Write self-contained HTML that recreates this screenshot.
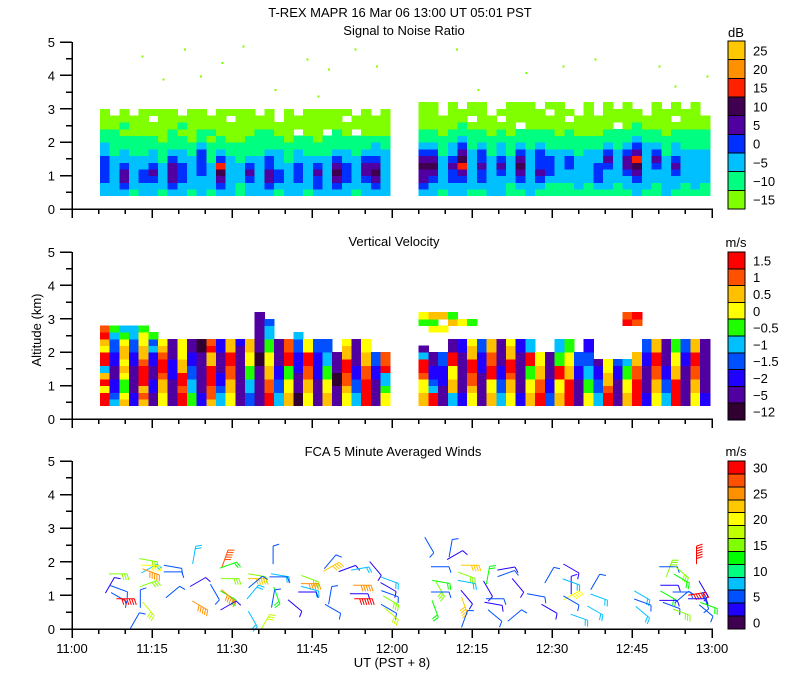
<!DOCTYPE html>
<html><head><meta charset="utf-8"><style>
html,body{margin:0;padding:0;background:#fff;}
svg{display:block;}
text{font-family:"Liberation Sans",sans-serif;font-size:13px;fill:#000;}
</style></head><body>
<svg id="chart" width="800" height="700" viewBox="0 0 800 700" xmlns="http://www.w3.org/2000/svg" shape-rendering="crispEdges">
<text x="400" y="17" text-anchor="middle">T-REX   MAPR 16 Mar 06   13:00 UT   05:01   PST</text>
<text x="404" y="35" text-anchor="middle">Signal to Noise Ratio</text>
<text x="394" y="246" text-anchor="middle">Vertical Velocity</text>
<text x="393" y="456" text-anchor="middle">FCA 5 Minute Averaged Winds</text>
<text transform="translate(41,330) rotate(-90)" text-anchor="middle" font-size="12">Altitude  (km)</text>
<text x="392" y="667" text-anchor="middle" font-size="12">UT   (PST + 8)</text>
<g id="g"></g>
</svg>
<script>
// ---- data ----
const segStart = [5.25, 65.0];          // minutes after 11:00
const segDur = [54.4, 54.6];
const altBase = 0.4, altStep = 0.2;
// SNR level codes (0=-15 ... 8=25), strings bottom -> top
const snrSeg1 = ["2233332211000","222222111100","2344322110100","122222111000","2233221110000","22343221100.0","1222211100000","2344432111000","223332211010","1222221100000","2223333211000","122221110100","2345632110000","22222211000.0","1122211100000","2234321110000","222222111100","2344332111000","12332221100","2222211100000","223332211.00","1222221110000","2334321100000","222222111.000","2345432111000","22333221100.0","122222111.00","2234432110000","234543221000","2222222110000"];
const snrSeg2 = ["23445432110000","22345432110000","122222111000","22334322110000","2234654321100","12222221110.00","12334332110000","222222111000","22234322110.0","11222211100000","1234543211.000","22222221110000","1234333211000","112333211100.0","11222221100000","11223321110.0","122222111000","11222221100000","123332211000","12223432110000","1122222111.00","12234432110000","2234564321100","122222221100","11223432110000","2222221110000","12234322110.00","1122222111000","12222221110000","112222211100"];
// Vertical velocity codes (0=1.5 ... 9=-12); '.' = no data
const vvSeg1 = ["003025003201","567788776654","234432322345","778888776655","212000122334","88778877564","3322100123","8888777888","0010022333","4455667788","7788888899","2110002201","5567788877","3322110022","8888888887","6655443322","88888899888888","0011223344556","5566778888","2233440011","99888777665","3322110033","8888777766","2233445566","88899888","3321100223","5566778888","0000112233","88887766","33455011"];
const vvSeg2 = ["223310058...43","00567788...342","88877766...3.2","5522330088..24","7788888877..3","3321100223..4","8888877766","2233001122","5566778888","3322100223","7788888877","2233440055","00112233","66778888","2233004455","0000223344","88887766","3344556677","5566778","0012233","8888776","2233445.....01","00001122....10","7788887766","3322110022","5566778888","0000223344","8888887766","3322110022","7788888888"];
// SNR speckles above cloud top
const speckT = [13,17,21,28,32,38,44,48,53,57,24,46,72,85,98,110,113,119,76,92];
const speckA = [4.6,3.9,4.8,4.4,4.9,3.6,4.5,4.2,4.8,4.3,4.0,3.4,4.8,4.1,4.5,4.3,3.7,4.0,3.6,4.3];
// wind barbs: minutes, altitude km, speed m/s, staff angle deg
const windT = [8.6,7.1,8.8,8.8,10.0,11.8,12.8,14.3,14.3,14.5,14.6,14.8,14.3,18.9,18.9,18.9,22.9,23.6,24.0,28.7,29.3,29.6,26.8,29.3,29.3,29.3,34.7,34.7,34.4,33.9,33.9,36.2,37.7,39.0,38.7,38.4,37.7,41.8,44.6,44.6,44.6,44.1,48.4,48.6,48.4,48.9,51.6,54.0,56.9,54.4,53.8,54.6,59.6,59.3,59.6,59.8,59.4,59.9,
 67.0,69.0,69.2,69.0,69.0,68.1,71.8,71.0,74.6,74.0,74.0,74.0,73.6,73.6,78.0,78.0,79.3,79.0,79.3,81.4,81.4,83.6,83.0,87.0,89.5,89.5,93.6,93.6,93.6,93.6,93.6,95.1,98.1,98.8,98.1,106.9,107.0,107.0,112.0,111.8,112.0,111.8,111.8,112.4,114.3,114.3,114.3,114.3,114.3,117.2,117.2,118.4,118.8,119.4,118.9,117.1];
const windA = [1.64,1.3,1.2,0.95,0.9,0.25,0.9,0.6,2.05,1.8,1.9,1.7,1.35,1.85,1.7,1.1,2.2,1.4,0.7,2.1,1.9,1.5,1.1,1.0,1.0,0.7,1.6,1.5,1.4,1.1,0.3,0.2,2.2,1.6,1.55,1.0,0.9,0.7,1.5,1.35,1.2,1.1,2.0,1.85,1.0,0.6,1.8,1.8,1.8,1.3,1.05,0.9,1.45,1.25,1.05,0.85,0.6,0.45,
 2.5,1.85,1.4,1.2,1.1,0.6,2.2,2.4,1.9,1.6,1.4,0.95,0.7,0.3,1.6,1.2,0.9,0.75,0.4,1.8,1.65,1.3,0.4,1.0,1.6,0.6,1.8,1.3,1.4,1.0,0.85,0.35,1.4,0.95,0.55,1.0,0.8,0.5,1.8,1.85,1.3,1.0,0.85,0.7,0.5,0.95,1.7,1.5,1.1,1.05,0.9,1.2,0.85,0.7,0.55,2.2,1.7,0.1];
const windS = [15,2,5,5,30,5,5,17,15,8,20,25,15,5,5,5,8,2,25,27,12,15,5,12,25,2,15,23,5,8,8,17,5,8,5,12,5,2,15,24,8,2,5,22,5,5,2,8,2,25,2,30,8,2,5,15,5,17,
 5,5,12,15,5,12,2,5,22,15,8,2,22,5,12,2,5,2,5,2,5,2,5,5,5,2,2,2,8,20,5,8,5,8,8,8,5,8,15,5,2,12,2,5,15,5,15,12,5,30,2,2,5,12,5,30,12];
const windDir = [0,-60,20,30,0,-60,-90,50,10,-30,0,20,-20,10,0,-40,-80,-30,30,-70,-20,0,60,30,40,-30,10,0,-40,-50,60,-60,-90,10,0,70,-80,40,20,0,15,0,-50,-30,-80,30,-20,-10,50,0,0,0,20,30,20,30,30,40,
 60,0,10,60,0,70,-30,-80,0,20,10,50,70,-70,-80,60,0,10,40,-10,-20,50,-40,10,-60,30,30,-90,20,-30,30,20,-60,20,30,30,20,40,-70,0,0,30,0,20,20,-40,40,30,0,-10,0,60,70,20,40,-90,-10,-90];

// ---- geometry ----
const X0 = 72, PXMIN = 80/15;
const xs = t => X0 + t*PXMIN;
const panels = [{y0:209,y5:42},{y0:419,y5:252},{y0:629,y5:461}];
const ys = (p,a) => panels[p].y0 - a*(panels[p].y0-panels[p].y5)/5;
const snrCol = ["#80ff00","#00ff80","#00c0ff","#0030ff","#5000a0","#400050","#ff2000","#ff9000","#ffc800"];
const vvCol = ["#ff0000","#ff5000","#ffc000","#ffff00","#20ff00","#00c0ff","#0050ff","#2000ff","#5000a0","#300030"];
const wCol = ["#400050","#2000ff","#0050ff","#00c0ff","#00ff80","#00ff00","#80ff00","#c0ff00","#ffff00","#ffc800","#ff9000","#ff5000","#ff0000"];
const NS="http://www.w3.org/2000/svg", g=document.getElementById('g');
function mk(tag,attrs,parent){const e=document.createElementNS(NS,tag);for(const k in attrs)e.setAttribute(k,attrs[k]);(parent||g).appendChild(e);return e;}

function heat(p, segs, cols, name){
  const grp=mk('g',{});
  
  
  segs.forEach((seg,s)=>{
    const n=seg.length, dt=segDur[s]/n;
    seg.forEach((str,i)=>{
      const xa=xs(segStart[s]+i*dt), xb=xs(segStart[s]+(i+1)*dt);
      for(let r=0;r<str.length;r++){
        const c=str[r]; if(c==='.')continue;
        const ya=ys(p,altBase+(r+1)*altStep), yb=ys(p,altBase+r*altStep);
        const rc=mk('rect',{x:xa.toFixed(1),y:ya.toFixed(1),width:(xb-xa+0.5).toFixed(1),height:(yb-ya+0.5).toFixed(1),fill:cols[+c]},grp);
        
        
      }
    });
  });
}
heat(0,[snrSeg1,snrSeg2],snrCol,'snr-heatmap');
heat(1,[vvSeg1,vvSeg2],vvCol,'velocity-heatmap');
speckT.forEach((t,i)=>{
  const r=mk('rect',{x:xs(t),y:ys(0,speckA[i]),width:2,height:2,fill:"#80ff00"});
  
  
});

// wind barbs
windT.forEach((t,i)=>{
  const cx=xs(t), cy=ys(2,windA[i]), sp=windS[i];
  const col=wCol[Math.max(0,Math.min(12,Math.round(sp/2.5)))];
  const a=windDir[i]*Math.PI/180, L=18;
  const dx=Math.cos(a), dy=Math.sin(a);
  const x1=cx-dx*L/2,y1=cy-dy*L/2,x2=cx+dx*L/2,y2=cy+dy*L/2;
  const bg=mk('g',{stroke:col,'stroke-width':1,fill:'none'});
  
  
  let d=`M${x1.toFixed(1)},${y1.toFixed(1)}L${x2.toFixed(1)},${y2.toFixed(1)}`;
  const nb=Math.max(1,Math.round(sp/5));
  const px=-dy, py=dx;
  for(let k=0;k<nb;k++){
    const bx=x2-dx*k*2.5, by=y2-dy*k*2.5;
    d+=`M${bx.toFixed(1)},${by.toFixed(1)}l${(px*6+dx*2).toFixed(1)},${(py*6+dy*2).toFixed(1)}`;
  }
  mk('path',{d:d,'shape-rendering':'auto'},bg);
});

// axes
const tickLab=["11:00","11:15","11:30","11:45","12:00","12:15","12:30","12:45","13:00"];
const yLab=["0","1","2","3","4","5"];
panels.forEach((P,p)=>{
  const ax=mk('g',{stroke:'#000','stroke-width':1.5});
  
  
  mk('line',{x1:X0,y1:P.y5,x2:X0,y2:P.y0},ax);
  mk('line',{x1:X0,y1:P.y0,x2:xs(120)+1,y2:P.y0},ax);
  for(let k=0;k<=10;k++){const y=ys(p,k/2);mk('line',{x1:k%2?66:60,y1:y,x2:X0,y2:y},ax);}
  for(let m=0;m<=120;m+=5){const x=xs(m);mk('line',{x1:x,y1:P.y0,x2:x,y2:P.y0+(m%15?5:9)},ax);}
  yLab.forEach((l,k)=>{const t=mk('text',{x:55,y:ys(p,k)+5,'text-anchor':'end'});t.textContent=l;
    
    });
});
tickLab.forEach((l,k)=>{const t=mk('text',{x:xs(k*15),y:653,'text-anchor':'middle'});t.textContent=l;
  
  });

// colorbars
function cbar(top,bot,cols,labels,unit,unitY,name){
  const grp=mk('g',{});
  
  
  const n=cols.length,h=(bot-top)/n;
  cols.forEach((c,i)=>{mk('rect',{x:728,y:bot-(i+1)*h,width:17,height:h,fill:c,stroke:'#000','stroke-width':1},grp);});
  labels.forEach((l,i)=>{if(l==='')return;const t=mk('text',{x:753,y:bot-(i+0.5)*h+5},grp);t.textContent=l;});
  const u=mk('text',{x:736,y:unitY,'text-anchor':'middle'},grp);u.textContent=unit;
}
cbar(41,209,snrCol,["\u221215","\u221210","\u22125","0","5","10","15","20","25"],"dB",37,'snr-colorbar');
cbar(252,420,vvCol.slice().reverse(),["\u221212","\u22125","\u22122","\u22121.5","\u22121","\u22120.5","0","0.5","1","1.5"],"m/s",247,'velocity-colorbar');
cbar(461,629,wCol,["0","","5","","10","","15","","20","","25","","30"],"m/s",456,'wind-colorbar');
</script>
</body></html>
